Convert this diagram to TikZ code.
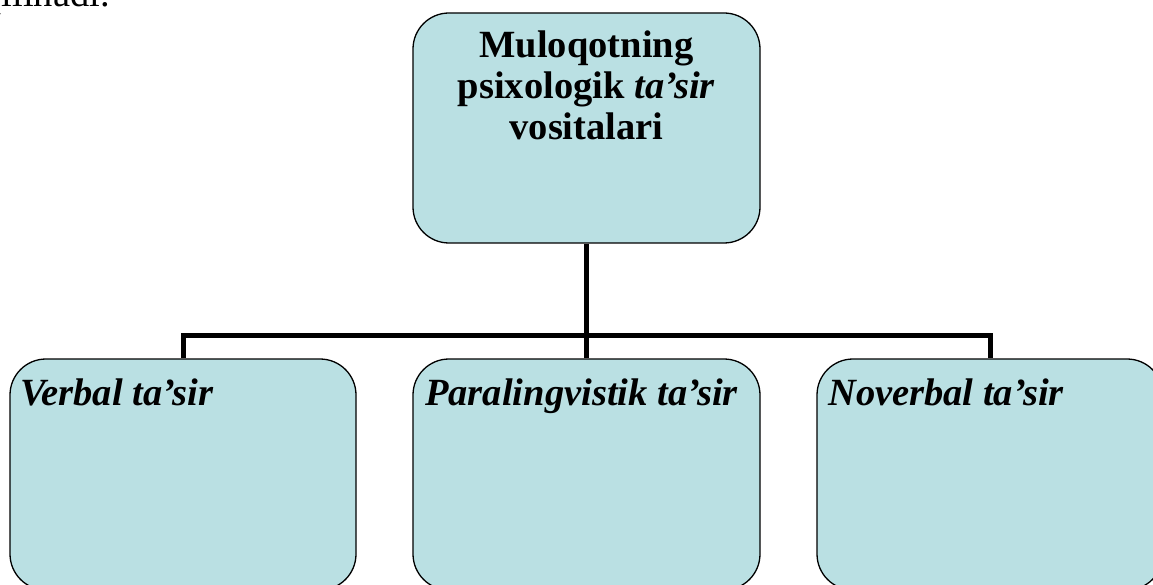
\documentclass[tikz,border=0pt]{standalone}
\usepackage{fontspec}
\setmainfont{Liberation Serif}
\definecolor{boxfill}{RGB}{186,224,227}
\tikzset{
  box/.style={draw=black, line width=1.3pt, fill=boxfill, rounded corners=36pt,
    minimum width=347pt, minimum height=230pt, inner sep=0pt},
  conn/.style={draw=black, line width=5pt, line join=miter},
  txt/.style={font=\fontsize{38.5}{41}\selectfont, inner sep=0pt},
}
\begin{document}
\begin{tikzpicture}[x=1pt,y=-1pt]
\useasboundingbox (0,0) rectangle (1153,585);
\clip (0,0) rectangle (1153,585);
% partial text of the preceding line
\node[txt, anchor=base east] (prev) at (110,7) {qilinadi.};
% boxes
\node[box] (top) at (586.5,128) {};
\node[box, minimum width=346pt, minimum height=231pt] (left) at (183,474.5) {};
\node[box, minimum height=231pt] (mid) at (586.5,474.5) {};
\node[box, minimum width=346pt, minimum height=231pt] (right) at (990,474.5) {};
% texts
\node[txt, anchor=base, align=center] (toptext) at (586.5,140)
  {\bfseries Muloqotning\\ \bfseries psixologik \textit{ta’sir}\\ \bfseries vositalari};
\node[txt, anchor=base west] (lt) at (20,405) {\bfseries\itshape Verbal ta’sir};
\node[txt, anchor=base west] (mt) at (425,405) {\bfseries\itshape Paralingvistik ta’sir};
\node[txt, anchor=base west] (rt) at (828,405) {\bfseries\itshape Noverbal ta’sir};
% connectors
\coordinate (bus) at (586.5,335);
\draw[conn] (top.south) -- (top.south |- bus);
\draw[conn] (left.north) -- (left.north |- bus) -- (right.north |- bus) -- (right.north);
\draw[conn] (mid.north) -- (mid.north |- bus);
\end{tikzpicture}
\end{document}
